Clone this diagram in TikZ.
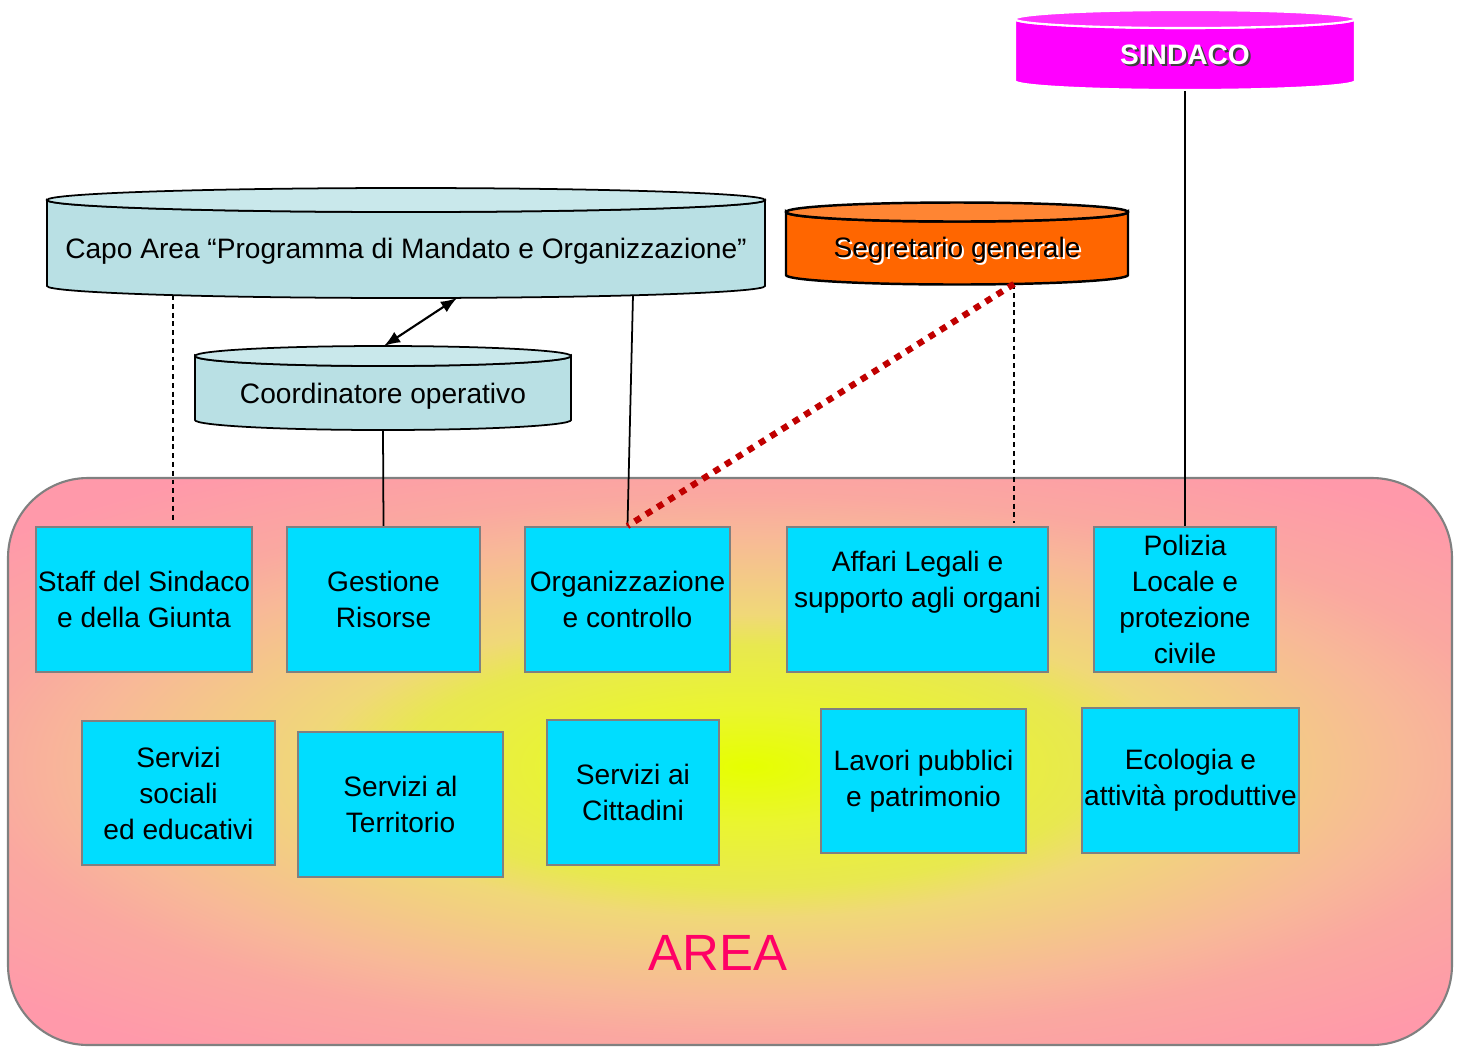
\documentclass[tikz,border=0pt]{standalone}
\usepackage{fontspec}
\setmainfont{Liberation Sans}
\definecolor{unitcyan}{HTML}{00DDFF}
\definecolor{unitedge}{HTML}{808080}
\definecolor{areapink}{HTML}{FF99AA}
\definecolor{areasalmon}{HTML}{FAA8A0}
\definecolor{areapeach}{HTML}{F8B898}
\definecolor{areaorange}{HTML}{F0D878}
\definecolor{areaamber}{HTML}{E8E850}
\definecolor{arealime}{HTML}{EAF530}
\definecolor{areayellow}{HTML}{E6FF00}
\definecolor{areatext}{HTML}{FF0066}
\definecolor{capoblue}{HTML}{B9E0E4}
\definecolor{capotop}{HTML}{C9E8EB}
\definecolor{segrorange}{HTML}{FF6600}
\definecolor{segrtop}{HTML}{FF8533}
\definecolor{sindmagenta}{HTML}{FF00FF}
\definecolor{sindtop}{HTML}{FF33FF}
\definecolor{dotred}{HTML}{C00000}
\pgfdeclareradialshading{areashade}{\pgfpoint{0bp}{0bp}}{%
  color(0bp)=(areayellow); color(4.9bp)=(arealime); color(10.3bp)=(areaamber);
  color(12.9bp)=(areaorange); color(19.8bp)=(areapeach); color(23bp)=(areasalmon);
  color(29.5bp)=(areapink); color(50bp)=(areapink)}
\newcommand\embossed[2]{\makebox[0pt][l]{\kern0.6pt\raisebox{-0.6pt}{\color{#1}#2}}#2}
\begin{document}
\begin{tikzpicture}[x=0.1mm,y=-0.1mm,font=\fontsize{8}{10.24}\selectfont]
\tikzstyle{every node}+=[inner sep=0pt]
\tikzstyle{unit}=[draw=unitedge, fill=unitcyan, align=center, line width=0.6pt]
\tikzstyle{dashline}=[line width=0.6pt, dash pattern=on 1.4pt off 1.1pt]
\tikzstyle{redline}=[dotred, line width=1.8pt, dash pattern=on 1.9pt off 1.9pt]
\useasboundingbox (0,0) rectangle (1461,1046);
% area
\begin{scope}
\clip[rounded corners=8mm] (8,478) rectangle (1452,1045);
\begin{scope}[transform canvas={shift={(748,766)}, yscale=0.35}]
\shade[shading=areashade] (-840,-840) rectangle (840,840);
\end{scope}
\end{scope}
\draw[unitedge, line width=0.6pt, rounded corners=8mm] (8,478) rectangle (1452,1045);
\node[text=areatext, font=\fontsize{14.5}{17}\selectfont] (area) at (718,953) {AREA};
% units, first row
\node[unit, minimum width=21.6mm, minimum height=14.5mm] (staff) at (144,599.5) {Staff del Sindaco\\e della Giunta};
\node[unit, minimum width=19.3mm, minimum height=14.5mm] (gestione) at (383.5,599.5) {Gestione\\Risorse};
\node[unit, minimum width=20.5mm, minimum height=14.5mm] (org) at (627.5,599.5) {Organizzazione\\e controllo};
\node[unit, minimum width=26.1mm, minimum height=14.5mm] (affari) at (917.5,599.5) {Affari Legali e\\supporto agli organi\\[1.5pt]\mbox{}};
\node[unit, minimum width=18.2mm, minimum height=14.5mm] (polizia) at (1185,599.5) {Polizia\\Locale e\\protezione\\civile};
% units, second row
\node[unit, minimum width=19.3mm, minimum height=14.4mm] (sociali) at (178.5,793) {Servizi\\sociali\\ed educativi};
\node[unit, minimum width=20.5mm, minimum height=14.5mm] (territorio) at (400.5,804.5) {Servizi al\\Territorio};
\node[unit, minimum width=17.2mm, minimum height=14.5mm] (cittadini) at (633,792.5) {Servizi ai\\Cittadini};
\node[unit, minimum width=20.5mm, minimum height=14.4mm] (lavori) at (923.5,781) {Lavori pubblici\\e patrimonio};
\node[unit, minimum width=21.7mm, minimum height=14.5mm] (ecologia) at (1190.5,780.5) {Ecologia e\\attività produttive};
% Capo Area
\draw[fill=capoblue, line width=0.5pt] (47,200) -- (47,286) arc[start angle=180,end angle=0,x radius=359,y radius=12] -- (765,200) arc[start angle=0,end angle=180,x radius=359,y radius=12] -- cycle;
\draw[fill=capotop, line width=0.5pt] (406,200) ellipse[x radius=359,y radius=12];
\node (capo) at (406,251) {Capo Area “Programma di Mandato e Organizzazione”};
% Coordinatore
\draw[fill=capoblue, line width=0.5pt] (195,356) -- (195,420) arc[start angle=180,end angle=0,x radius=188,y radius=10] -- (571,356) arc[start angle=0,end angle=180,x radius=188,y radius=10] -- cycle;
\draw[fill=capotop, line width=0.5pt] (383,356) ellipse[x radius=188,y radius=10];
\node (coord) at (383,396) {Coordinatore operativo};
% Segretario
\draw[fill=segrorange, line width=0.7pt] (786,212) -- (786,275) arc[start angle=180,end angle=0,x radius=171,y radius=9.5] -- (1128,212) arc[start angle=0,end angle=180,x radius=171,y radius=9.5] -- cycle;
\draw[fill=segrtop, line width=0.7pt] (957,212) ellipse[x radius=171,y radius=9.5];
\node (segr) at (957,251) {\embossed{white}{Segretario generale}};
% Sindaco
\draw[fill=sindmagenta, draw=white, line width=0.6pt] (1015,19) -- (1015,81) arc[start angle=180,end angle=0,x radius=170,y radius=9] -- (1355,19) arc[start angle=0,end angle=180,x radius=170,y radius=9] -- cycle;
\draw[fill=sindtop, draw=white, line width=0.6pt] (1185,19) ellipse[x radius=170,y radius=9];
\node[text=white, font=\fontsize{8}{10}\selectfont\bfseries] (sindaco) at (1185,56) {\embossed{black!75}{SINDACO}};
% connectors
\coordinate (capo-a) at (173,295);
\coordinate (capo-b) at (457,298);
\coordinate (capo-c) at (633,295);
\coordinate (coord-t) at (384,346);
\coordinate (coord-b) at (383,430);
\coordinate (segr-b) at (1014,284);
\coordinate (sind-b) at (1185,91);
\draw[dashline] (capo-a) -- ([yshift=0.3mm]capo-a |- staff.north);
\draw[latex-latex, line width=0.6pt] (capo-b) -- (coord-t);
\draw[line width=0.5pt] (coord-b) -- (gestione.north);
\draw[line width=0.5pt] (capo-c) -- (org.north);
\draw[dashline] (segr-b) -- ([yshift=0.3mm]segr-b |- affari.north);
\draw[line width=0.5pt] (sind-b) -- (polizia.north);
\draw[redline] (segr-b) -- (org.north);
\end{tikzpicture}
\end{document}
